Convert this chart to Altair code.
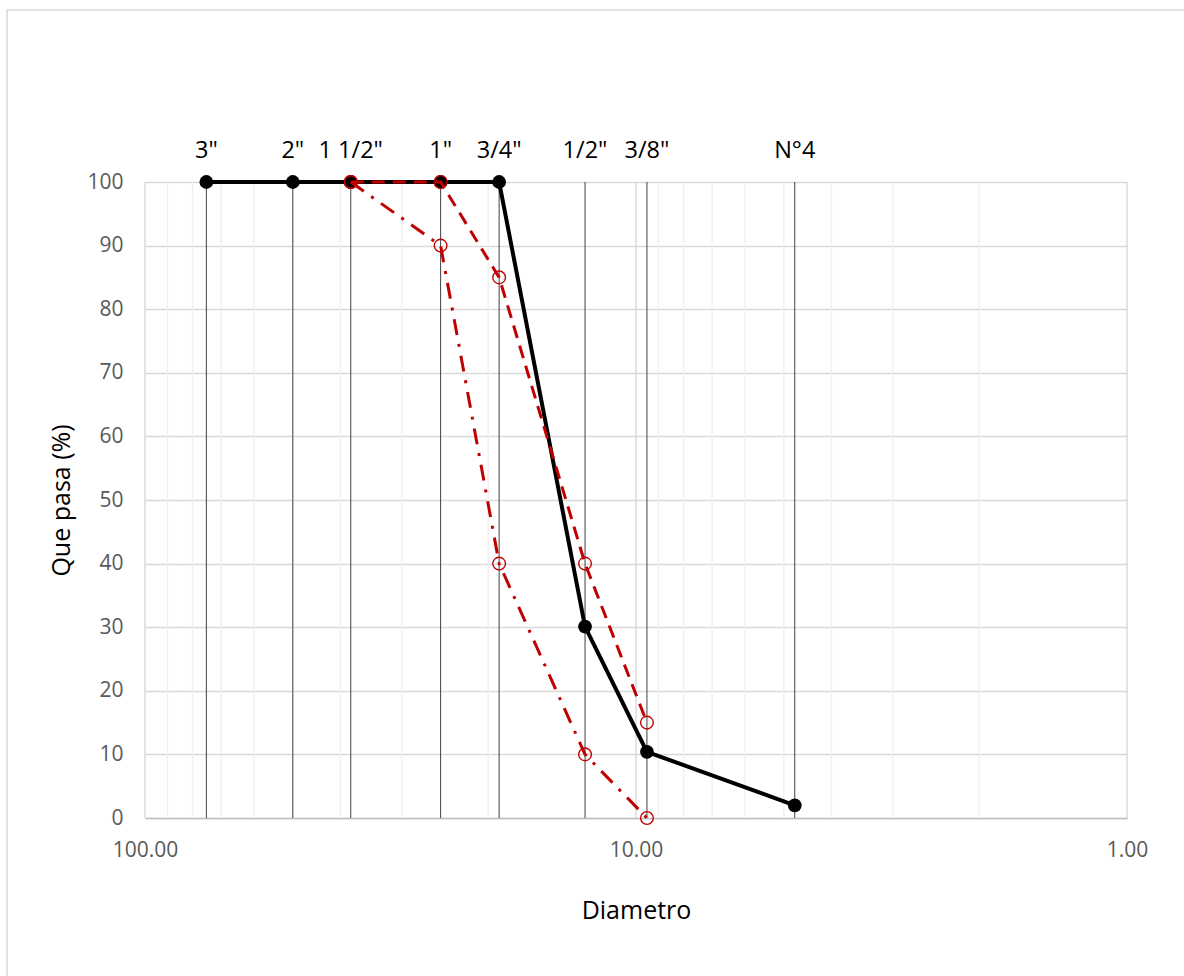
import altair as alt
import pandas as pd

# Sieve openings (mm) and their names
sieve_labels = ['3"', '2"', '1 1/2"', '1"', '3/4"', '1/2"', '3/8"', 'N°4']
sieve_mm = [75, 50, 38.1, 25, 19, 12.7, 9.5, 4.75]

# Sample grading curve (% passing)
passing = [100, 100, 100, 100, 100, 30.1, 10.4, 2.0]

# Specification band
band_mm = [38.1, 25, 19, 12.7, 9.5]
upper_limit = [100, 100, 85, 40, 15]
lower_limit = [100, 90, 40, 10, 0]

# Log grid lines
minor_grid = [2, 3, 4, 5, 6, 7, 8, 9, 20, 30, 40, 50, 60, 70, 80, 90]
major_grid = [1, 10, 100]

FONT = "Open Sans"
W, H = 982, 636

sieves = pd.DataFrame({"d": sieve_mm, "label": sieve_labels, "p": passing})
upper = pd.DataFrame({"d": band_mm, "p": upper_limit})
lower = pd.DataFrame({"d": band_mm, "p": lower_limit})

xscale = alt.Scale(type="log", domain=[1, 100], reverse=True)
yscale = alt.Scale(domain=[0, 100], nice=False, zero=True)

x_axis = alt.Axis(
    values=major_grid, format=".2f", grid=False, ticks=False, labelFlush=False,
    domainColor="#bfbfbf", domainWidth=1.5,
    labelFontSize=21, labelColor="#595959", labelFont=FONT, labelPadding=21,
    title="Diametro", titleFontSize=25, titleFont=FONT, titleFontWeight="normal",
    titleColor="#000000", titlePadding=38,
)
y_axis = alt.Axis(
    values=list(range(0, 101, 10)), grid=True, gridColor="#d9d9d9", gridWidth=1.4,
    ticks=False, domain=False, labelFlush=False,
    labelFontSize=21, labelColor="#595959", labelFont=FONT, labelPadding=22,
    title="Que pasa (%)", titleFontSize=25, titleFont=FONT, titleFontWeight="normal",
    titleColor="#000000", titlePadding=12,
)


def X():
    return alt.X("d:Q", scale=xscale, axis=x_axis, title="Diametro")


def Y(field="p:Q"):
    return alt.Y(field, scale=yscale, axis=y_axis, title="Que pasa (%)")


frame = alt.Chart(pd.DataFrame({"k": [0]})).mark_rect(
    fill=None, stroke="#d9d9d9", strokeWidth=1.5
).encode(
    x=alt.value(-138), x2=alt.value(W + 200),
    y=alt.value(-172), y2=alt.value(H + 300),
)

minor = alt.Chart(pd.DataFrame({"d": minor_grid})).mark_rule(
    color="#f0f0f0", strokeWidth=1.4
).encode(x=X())

major = alt.Chart(pd.DataFrame({"d": major_grid})).mark_rule(
    color="#d9d9d9", strokeWidth=1.4
).encode(x=X())

sieve_rules = alt.Chart(sieves).mark_rule(color="#404040", strokeWidth=1).encode(
    x=X(),
    y=alt.datum(0, scale=yscale, axis=y_axis, title="Que pasa (%)"),
    y2=alt.datum(100),
)

sieve_text = alt.Chart(sieves).mark_text(
    font=FONT, fontSize=23.5, color="#000000", baseline="alphabetic", dy=-24
).encode(
    x=X(),
    y=alt.datum(100, scale=yscale, axis=y_axis, title="Que pasa (%)"),
    text="label:N",
)

curve = alt.Chart(sieves).mark_line(color="#000000", strokeWidth=4).encode(
    x=X(), y=Y(),
    order=alt.Order("d:Q", sort="descending"),
)
curve_pts = alt.Chart(sieves).mark_circle(color="#000000", size=190, opacity=1).encode(
    x=X(), y=Y(),
)

up_line = alt.Chart(upper).mark_line(
    color="#c00000", strokeWidth=3, strokeDash=[13, 8]
).encode(
    x=X(), y=Y(),
    order=alt.Order("d:Q", sort="descending"),
)
lo_line = alt.Chart(lower).mark_line(
    color="#c00000", strokeWidth=3, strokeDash=[16, 9, 3, 9]
).encode(
    x=X(), y=Y(),
    order=alt.Order("d:Q", sort="descending"),
)
up_pts = alt.Chart(upper).mark_point(
    shape="circle", filled=False, color="#c00000", size=160, strokeWidth=1.4, opacity=1
).encode(x=X(), y=Y())
lo_pts = alt.Chart(lower).mark_point(
    shape="circle", filled=False, color="#c00000", size=160, strokeWidth=1.4, opacity=1
).encode(x=X(), y=Y())

chart = alt.layer(
    frame, minor, major, sieve_rules, sieve_text,
    curve, curve_pts, up_line, lo_line, up_pts, lo_pts,
).properties(
    width=W, height=H,
    autosize=alt.AutoSizeParams(type="none"),
    padding={"left": 145, "top": 182, "right": 57, "bottom": 158},
    background="#ffffff",
).configure_view(stroke=None)

chart.save("out.html", embed_options={"renderer": "svg", "actions": False})
